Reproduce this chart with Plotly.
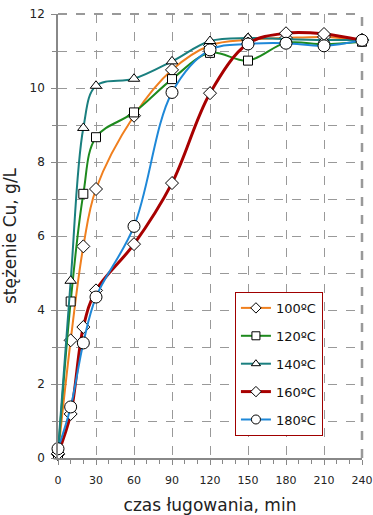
import plotly.graph_objects as go

time_min = [0, 10, 20, 30, 60, 90, 120, 150, 180, 210, 240]
cu_100 = [0.10, 3.18, 5.72, 7.27, 9.25, 10.49, 11.15, 11.30, 11.35, 11.38, 11.30]
cu_120 = [0.10, 4.23, 7.14, 8.67, 9.34, 10.24, 10.95, 10.74, 11.22, 11.18, 11.25]
cu_140 = [0.20, 4.79, 8.92, 10.06, 10.25, 10.72, 11.27, 11.35, 11.32, 11.30, 11.30]
cu_160 = [0.12, 1.19, 3.54, 4.53, 5.78, 7.43, 9.86, 11.20, 11.48, 11.46, 11.29]
cu_180 = [0.25, 1.38, 3.11, 4.35, 6.26, 9.88, 11.03, 11.19, 11.21, 11.14, 11.29]

series_names = ["100ºC", "120ºC", "140ºC", "160ºC", "180ºC"]
series_vals = [cu_100, cu_120, cu_140, cu_160, cu_180]
colors = ["#F07F1E", "#1E8A1E", "#1A7F7F", "#A80000", "#1E88D8"]
symbols = ["diamond", "square", "triangle-up", "diamond", "circle"]
msizes = [10, 9, 10, 10, 12]
legend_msizes = [8, 8, 8, 8, 9]
lwidths = [2, 2, 2, 3, 2]

fig = go.Figure()
for i, (name, vals) in enumerate(zip(series_names, series_vals)):
    fig.add_trace(go.Scatter(
        x=time_min, y=vals, name=name, mode="lines+markers",
        legendgroup=name, showlegend=False,
        line=dict(color=colors[i], width=lwidths[i], shape="spline", smoothing=1.0),
        marker=dict(symbol=symbols[i], size=msizes[i], color="white",
                    line=dict(color="black", width=1)),
        cliponaxis=False,
    ))
# legend entries (smaller symbols as in the original legend)
for i, name in enumerate(series_names):
    fig.add_trace(go.Scatter(
        x=[None], y=[None], name=name, mode="lines+markers",
        legendgroup=name, showlegend=True,
        line=dict(color=colors[i], width=lwidths[i]),
        marker=dict(symbol=symbols[i], size=legend_msizes[i], color="white",
                    line=dict(color="black", width=1)),
    ))

font_family = "DejaVu Sans"
fig.update_layout(
    width=373, height=515,
    margin=dict(l=58, r=11, t=14, b=57),
    paper_bgcolor="white", plot_bgcolor="white",
    font=dict(family=font_family, color="#222"),
    showlegend=True,
    legend=dict(x=0.582, y=0.374, xanchor="left", yanchor="top",
                bgcolor="white", bordercolor="#A00000", borderwidth=1,
                font=dict(size=13, family=font_family, color="#111"),
                tracegroupgap=8, itemwidth=30),
    xaxis=dict(range=[0, 240], tickvals=[0, 30, 60, 90, 120, 150, 180, 210, 240],
               showgrid=True, gridcolor="#999", griddash="dash", gridwidth=1,
               showline=True, linecolor="#888", linewidth=1.5,
               ticks="outside", ticklen=5, tickcolor="#888",
               minor=dict(dtick=10, ticks="outside", ticklen=4, tickcolor="#888", showgrid=False),
               tickfont=dict(size=11), ticklabelstandoff=6,
               title=dict(text="czas ługowania, min", font=dict(size=17), standoff=14),
               zeroline=False, automargin=False),
    yaxis=dict(range=[0, 12], dtick=2,
               showgrid=True, gridcolor="#999", griddash="dash", gridwidth=1,
               showline=True, linecolor="#888", linewidth=1.5,
               ticks="outside", ticklen=5, tickcolor="#888",
               minor=dict(dtick=1, ticks="outside", ticklen=4, tickcolor="#888",
                          showgrid=True, gridcolor="#999", griddash="dash", gridwidth=1),
               tickfont=dict(size=12), ticklabelstandoff=4,
               title=dict(text="stężenie Cu, g/L", font=dict(size=17), standoff=10),
               zeroline=False, automargin=False),
)

# top and right frame (dashed gray)
fig.add_shape(type="line", xref="x domain", yref="y domain", x0=0, x1=1, y0=1, y1=1,
              line=dict(color="#999", width=2, dash="dash"), layer="below")
fig.add_shape(type="line", xref="x domain", yref="y domain", x0=1, x1=1, y0=0, y1=1,
              line=dict(color="#999", width=2.5, dash="dash"), layer="below")

fig.write_html("out.html")
